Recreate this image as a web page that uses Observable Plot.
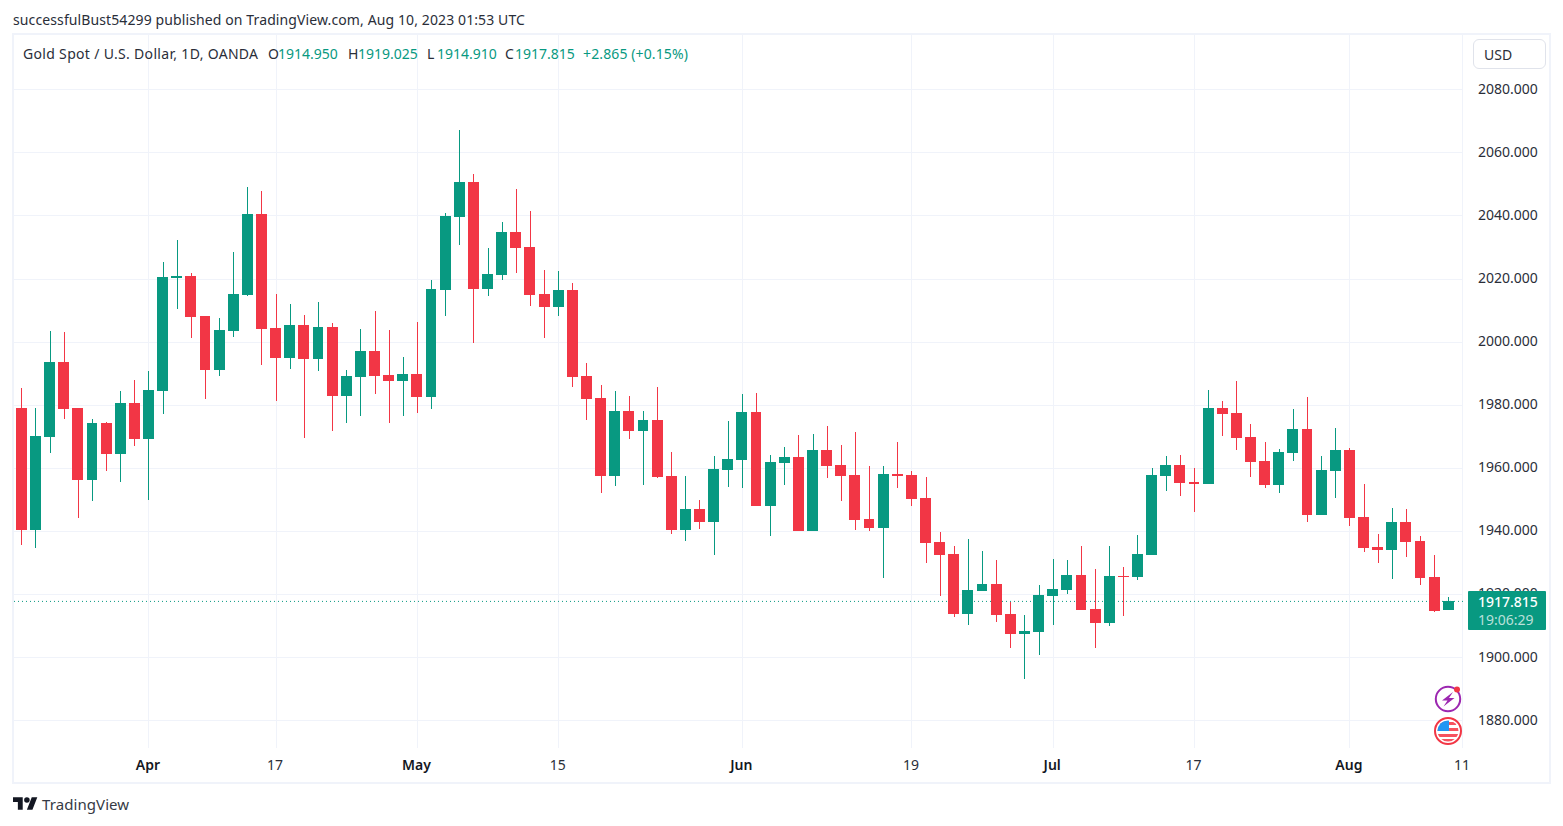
<!DOCTYPE html>
<html>
<head>
<meta charset="utf-8">
<script src="https://cdn.jsdelivr.net/npm/d3@7"></script>
<script src="https://cdn.jsdelivr.net/npm/@observablehq/plot@0.6"></script>
<style>
html,body{margin:0;padding:0;background:#fff;overflow:hidden;width:1563px;height:826px}
body{position:relative;font-family:"Noto Sans",sans-serif;color:#2a2e39}
#chart svg{display:block}
.abs{position:absolute;white-space:pre;font-size:14px;line-height:18px}
.g{color:#089981}
#frame{position:absolute;left:12px;top:33px;width:1535px;height:747px;border:2px solid #f0f3fa;pointer-events:none}
</style>
</head>
<body>
<div id="chart"></div>
<div id="frame"></div>
<div class="abs" style="left:13px;top:11px;letter-spacing:.11px">successfulBust54299 published on TradingView.com, Aug 10, 2023 01:53 UTC</div>
<div class="abs" style="left:23px;top:45px;letter-spacing:.32px">Gold Spot / U.S. Dollar, 1D, OANDA</div>
<div class="abs" style="left:268px;top:45px">O</div><div class="abs g" style="left:278px;top:45px">1914.950</div>
<div class="abs" style="left:348px;top:45px">H</div><div class="abs g" style="left:358px;top:45px">1919.025</div>
<div class="abs" style="left:427px;top:45px">L</div><div class="abs g" style="left:437px;top:45px">1914.910</div>
<div class="abs" style="left:505px;top:45px">C</div><div class="abs g" style="left:515px;top:45px">1917.815</div>
<div class="abs g" style="left:583px;top:45px;letter-spacing:.12px">+2.865 (+0.15%)</div>
<div style="position:absolute;left:1473px;top:39px;width:71px;height:28px;border:1px solid #e0e3eb;border-radius:6px;background:#fff"></div>
<div class="abs" style="left:1484px;top:45.5px">USD</div>
<div style="position:absolute;left:1468px;top:591px;width:78px;height:39px;background:#089981;border-radius:1px"></div>
<div class="abs" style="left:1478px;top:593px;color:#fff;font-weight:500">1917.815</div>
<div class="abs" style="left:1478px;top:611px;color:rgba(255,255,255,.72)">19:06:29</div>
<svg style="position:absolute;left:1432px;top:684px" width="32" height="62" viewBox="0 0 32 62">
  <defs><clipPath id="flagClip"><circle cx="16" cy="47" r="10.5"/></clipPath></defs>
  <circle cx="16" cy="15" r="12.2" fill="#fff" stroke="#9c27b0" stroke-width="2"/>
  <path d="M21 8 L10 16.5 L15.5 16.5 L11.5 22.5 L22.5 14 L17 14 Z" fill="#9c27b0"/>
  <circle cx="25" cy="5.5" r="3" fill="#f23645"/>
  <circle cx="16" cy="47" r="13" fill="#fff" stroke="#f23645" stroke-width="2"/>
  <g clip-path="url(#flagClip)">
    <path d="M5 38 h22 v3 h-22z M5 44 h22 v3 h-22z M5 50 h22 v3 h-22z M5 55 h22 v3 h-22z" fill="#f7525f"/>
    <path d="M5 36 h12 v11 h-12z" fill="#2196f3"/>
  </g>
</svg>
<svg style="position:absolute;left:13px;top:797px" width="25" height="13" viewBox="0 0 36 18">
  <path d="M14 18H7V7H0V0h14v18zM28 18h-8L27 0h8l-7 18z" fill="#131722"/><circle cx="20" cy="4" r="4" fill="#131722"/>
</svg>
<div class="abs" style="left:42px;top:795px;font-size:15px;color:#363a45;letter-spacing:.08px">TradingView</div>
<script>
const opens = [1979.0,1940.3,1969.8,1993.5,1979.0,1956.1,1974.2,1964.4,1980.5,1969.1,1984.3,2020.2,2020.8,2008.1,1991.0,2003.4,2014.8,2040.4,2004.3,1994.8,2005.2,1994.5,2004.6,1982.7,1988.8,1997.0,1989.4,1987.5,1989.7,1982.4,2016.3,2039.5,2050.6,2016.7,2021.1,2034.7,2030.0,2015.1,2011.0,2016.3,1989.1,1982.1,1957.4,1978.0,1971.6,1975.1,1957.4,1940.3,1946.9,1942.8,1959.3,1962.5,1977.7,1947.9,1961.5,1963.4,1940.0,1965.6,1960.9,1957.7,1943.8,1940.9,1958.0,1957.7,1950.4,1936.5,1932.7,1913.7,1921.0,1923.2,1913.7,1907.3,1908.0,1919.4,1921.3,1926.0,1915.2,1910.8,1925.7,1925.4,1932.4,1957.4,1960.9,1955.5,1954.9,1979.0,1977.4,1969.8,1962.2,1954.5,1964.7,1972.3,1945.0,1959.0,1965.6,1944.4,1934.9,1933.9,1942.8,1936.8,1925.4,1914.95];
const highs = [1985.3,1979.0,2003.4,2003.0,1979.0,1975.5,1974.5,1984.3,1987.8,1990.7,2025.2,2032.2,2021.7,2008.1,2007.5,2028.4,2049.0,2047.7,2015.1,2011.9,2008.4,2012.5,2005.9,1991.0,2004.0,2009.7,2003.7,1995.1,2006.2,2019.5,2040.8,2067.0,2053.1,2029.7,2037.9,2048.4,2041.4,2022.7,2022.4,2018.6,1993.2,1986.2,1984.3,1982.7,1978.0,1985.6,1965.0,1957.4,1949.8,1963.7,1974.8,1983.4,1983.7,1964.0,1966.6,1970.4,1970.7,1973.2,1967.2,1971.3,1960.6,1960.6,1968.2,1959.0,1957.1,1939.7,1935.2,1937.4,1933.6,1930.8,1917.5,1913.3,1922.9,1931.1,1930.8,1935.2,1927.9,1935.2,1928.6,1938.7,1959.9,1963.7,1964.1,1959.9,1984.7,1981.2,1987.5,1973.9,1968.2,1966.0,1978.6,1982.4,1963.7,1972.6,1966.3,1954.9,1939.0,1947.3,1946.9,1938.4,1932.4,1919.025];
const lows = [1935.5,1934.6,1964.7,1975.5,1944.1,1949.5,1959.0,1955.5,1966.9,1949.8,1977.0,2010.3,2001.1,1981.8,1989.1,2001.4,2014.4,1992.6,1981.2,1991.3,1969.4,1990.7,1971.6,1974.2,1976.4,1983.4,1974.2,1976.4,1977.4,1978.6,2008.1,2030.6,1999.5,2014.4,2019.5,2021.7,2011.3,2001.1,2008.1,1985.6,1975.1,1952.0,1954.2,1969.1,1954.5,1956.7,1939.0,1936.8,1940.6,1932.3,1953.9,1953.6,1947.9,1938.4,1954.5,1940.0,1940.0,1956.8,1949.5,1940.3,1940.0,1925.1,1953.6,1947.9,1929.8,1919.4,1912.7,1910.2,1921.0,1911.1,1902.9,1893.1,1900.7,1910.2,1920.0,1914.9,1902.9,1909.9,1913.0,1924.4,1932.4,1952.6,1951.1,1946.0,1954.9,1970.1,1965.6,1957.1,1953.6,1952.0,1962.2,1942.8,1945.0,1950.4,1941.6,1933.3,1929.8,1924.8,1931.7,1922.9,1914.3,1914.91];
const closes = [1940.3,1970.1,1993.5,1978.6,1956.1,1974.2,1964.4,1980.5,1969.1,1984.7,2020.5,2020.8,2007.8,1991.0,2003.7,2015.1,2040.4,2004.0,1994.8,2005.2,1994.5,2004.6,1982.7,1989.1,1997.0,1989.1,1987.5,1989.7,1982.4,2016.7,2039.8,2050.6,2016.7,2021.4,2034.7,2029.7,2014.8,2011.0,2016.3,1988.8,1981.8,1957.4,1978.0,1971.6,1975.1,1957.0,1940.3,1946.9,1942.8,1959.6,1962.8,1977.7,1947.9,1961.8,1963.4,1940.0,1965.6,1960.6,1957.4,1943.5,1940.9,1958.0,1957.4,1950.1,1936.2,1932.4,1913.7,1921.3,1923.2,1913.3,1907.3,1908.3,1919.7,1921.6,1926.0,1914.9,1910.8,1925.7,1925.4,1932.7,1957.7,1960.9,1955.2,1954.9,1979.0,1977.1,1969.4,1961.8,1954.5,1965.0,1972.3,1945.0,1959.3,1965.6,1944.1,1934.6,1933.9,1942.8,1936.5,1925.1,1914.6,1917.815];

const priceTicks = [1880,1900,1920,1940,1960,1980,2000,2020,2040,2060,2080];
const monthTickBars = [9,28,51,73,94];
const monthTickLabels = ["Apr","May","Jun","Jul","Aug"];
const dayTickBars = [18,38,63,83,102];
const dayTickLabels = ["17","15","19","17","11"];
const lastPrice = 1917.815;

const up = "#089981", down = "#f23645", gridColor = "#f0f3fa", ink = "#2a2e39";
const bars = d3.range(opens.length);
const halfBody = 0.385;
const isUp = i => closes[i] >= opens[i];
const body = (filter, fill) => Plot.rectY(bars, {
  filter,
  x1: i => i - halfBody, x2: i => i + halfBody,
  y1: i => opens[i], y2: i => closes[i],
  fill, shapeRendering: "crispEdges"
});
const wick = (filter, stroke) => Plot.ruleX(bars, {
  filter, x: i => i, y1: i => lows[i], y2: i => highs[i],
  stroke, strokeWidth: 1, shapeRendering: "crispEdges"
});

const chart = Plot.plot({
  width: 1563, height: 826,
  marginTop: 35, marginBottom: 78, marginLeft: 14, marginRight: 100,
  style: {fontFamily: '"Noto Sans", sans-serif', fontSize: "14px", background: "transparent", color: ink},
  x: {type: "linear", domain: [0, 101], range: [21.3, 1448.3]},
  y: {type: "linear", domain: [1880, 2080], range: [720.2, 89.2]},
  marks: [
    Plot.gridX([...monthTickBars, ...dayTickBars], {stroke: gridColor, strokeOpacity: 1, strokeWidth: 1, shapeRendering: "crispEdges"}),
    Plot.gridY(priceTicks, {stroke: gridColor, strokeOpacity: 1, strokeWidth: 1, shapeRendering: "crispEdges"}),
    Plot.axisY(priceTicks, {anchor: "right", tickSize: 0, tickPadding: 14.5, label: null,
      tickFormat: d => d.toFixed(3), fill: ink, fontSize: 14, dy: -0.5}),
    Plot.axisX(monthTickBars, {anchor: "bottom", tickSize: 0, tickPadding: 12, label: null,
      tickFormat: d => monthTickLabels[monthTickBars.indexOf(d)], fill: "#131722", fontWeight: 600, fontSize: 14, dx: -1}),
    Plot.axisX(dayTickBars, {anchor: "bottom", tickSize: 0, tickPadding: 12, label: null,
      tickFormat: d => dayTickLabels[dayTickBars.indexOf(d)], fill: ink, fontSize: 14, dx: -1}),
    Plot.ruleY([lastPrice], {stroke: up, strokeWidth: 1, strokeDasharray: "1,3"}),
    wick(isUp, up),
    wick(i => !isUp(i), down),
    body(isUp, up),
    body(i => !isUp(i), down)
  ]
});
document.getElementById("chart").append(chart);
</script>
</body>
</html>
